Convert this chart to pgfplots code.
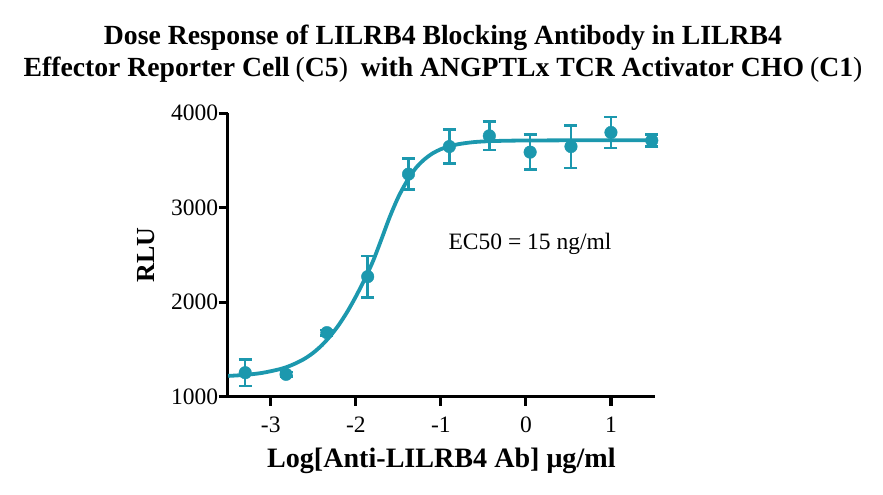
\documentclass[border=0pt]{standalone}
\usepackage{pgfplots}
\pgfplotsset{compat=1.18}
\usepackage{fontspec}
\setmainfont{Liberation Serif}
\definecolor{curvecol}{RGB}{28,152,174}
% wide, light brackets as in the original title
\newcommand\lp{\hspace{6pt}{\mdseries(}}
\newcommand\rp{{\mdseries)}\hspace{6pt}}

% mean RLU and SD per dilution
\pgfplotstableread{
x      y     err
-3.30  1254  140
-2.82  1237  25
-2.34  1678  30
-1.86  2271  220
-1.38  3356  165
-0.90  3648  180
-0.43  3761  150
 0.05  3589  185
 0.53  3648  225
 1.00  3797  165
 1.48  3712  65
}\doseresp

\begin{document}
\begin{tikzpicture}
\path[use as bounding box] (-227.7pt,-98.3pt) rectangle (655.3pt,396.7pt);
\begin{axis}[
    at={(0,0)}, anchor=south west,
    scale only axis,
    width=427.3pt, height=283.4pt,
    xmin=-3.506, xmax=1.518,
    ymin=1000, ymax=4000,
    xtick={-3,-2,-1,0,1},
    ytick={1000,2000,3000,4000},
    axis lines=left,
    axis line style={-, line width=3.2pt, black},
    tick align=outside,
    major tick length=9pt,
    every tick/.style={black, line width=3.2pt},
    /pgf/number format/assume math mode=true,
    /pgf/number format/1000 sep={},
    tick label style={font=\fontsize{23.5}{28}\selectfont},
    xticklabel style={yshift=-8pt},
    yticklabel style={xshift=3pt},
    xlabel={Log[Anti-LILRB4 Ab] μg/ml},
    ylabel={RLU},
    xlabel style={font=\fontsize{28.1}{32}\selectfont\bfseries,
        at={(axis description cs:0.5,0)}, anchor=base, yshift=-70.3pt},
    ylabel style={font=\fontsize{26}{30}\selectfont\bfseries,
        at={(axis description cs:0,0.5)}, anchor=center, yshift=81.7pt},
    clip=false,
]
\addplot[curvecol, only marks, mark=*, mark size=6.3pt,
    error bars/.cd, y dir=both, y explicit,
    error bar style={line width=2.5pt, curvecol},
    error mark options={rotate=90, mark size=6.5pt, line width=2.5pt, curvecol}]
    table[x=x, y=y, y error=err] {\doseresp};
\addplot[curvecol, line width=3.8pt, smooth] coordinates {
    (-3.5,1220)(-3.3,1231)(-3.1,1252)(-2.9,1290)(-2.8,1318)(-2.7,1356)
    (-2.6,1403)(-2.5,1465)(-2.4,1544)(-2.3,1642)(-2.2,1760)(-2.1,1899)
    (-2.0,2059)(-1.9,2235)(-1.8,2430)(-1.7,2663)(-1.6,2904)(-1.5,3113)
    (-1.4,3280)(-1.3,3414)(-1.2,3507)(-1.1,3574)(-1.0,3620)(-0.9,3651)
    (-0.8,3672)(-0.7,3686)(-0.6,3696)(-0.5,3702)(-0.4,3706)(-0.2,3710)
    (0,3712)(0.5,3714)(1.0,3715)(1.5,3715)
};
\node[anchor=base west, font=\fontsize{23.5}{28}\selectfont] at (axis cs:-0.95,2561) {EC50 = 15 ng/ml};
\end{axis}
\node[anchor=base, font=\fontsize{27.7}{32}\selectfont\bfseries] at (215.3pt,351.7pt)
    {Dose Response of LILRB4 Blocking Antibody in LILRB4};
\node[anchor=base, font=\fontsize{27.7}{32}\selectfont\bfseries] at (215.3pt,319.7pt)
    {Effector Reporter Cell\lp C5\rp{} with ANGPTLx TCR Activator CHO\lp C1\rp};
\end{tikzpicture}
\end{document}
